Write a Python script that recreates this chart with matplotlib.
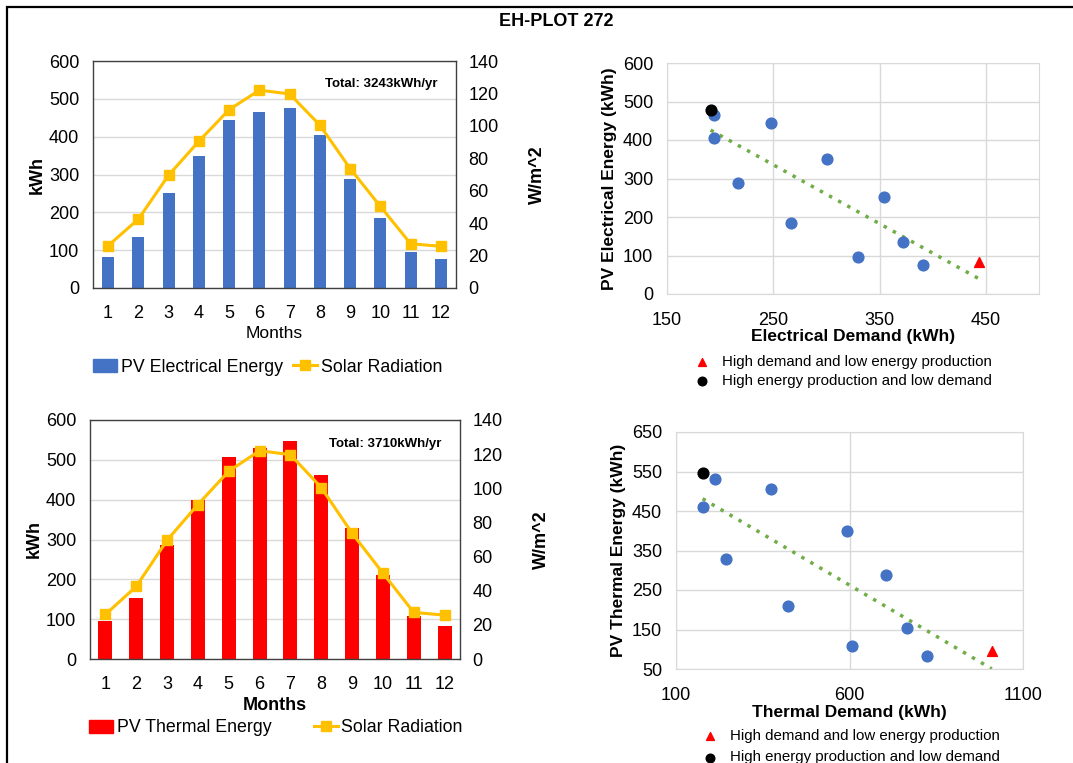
import numpy as np
import matplotlib
matplotlib.use("Agg")
import matplotlib.pyplot as plt
from matplotlib.patches import Rectangle
from matplotlib.lines import Line2D
from matplotlib.patches import Patch

plt.rcParams['font.family'] = ['Liberation Sans', 'DejaVu Sans']

months = list(range(1, 13))
pv_electrical = [82, 136, 252, 350, 445, 465, 477, 405, 288, 185, 95, 76]
pv_thermal = [95, 153, 287, 400, 506, 530, 547, 461, 328, 210, 108, 84]
solar_radiation = [26.1, 42.5, 69.6, 90.5, 110, 122, 119.7, 100.4, 73.7, 50.3, 27.3, 25.7]
electrical_demand = [444, 372, 354.5, 301, 248, 194.5, 191, 194.5, 217, 267, 330, 390.5]
thermal_demand = [1010, 766, 706, 594, 374, 213, 176.7, 178.6, 244, 422, 606, 823]
red_month = 1     # high demand and low energy production
black_month = 7   # high energy production and low demand

W, H = 1073, 763
fig = plt.figure(figsize=(W / 100, H / 100), dpi=100)


def rect(l, t, r, b):
    return [l / W, 1 - b / H, (r - l) / W, (b - t) / H]


# outer frame
fig.patches.append(Rectangle((7 / W, -0.1), 1.2, 1 - 7 / H + 0.1, transform=fig.transFigure,
                             fill=False, edgecolor='black', lw=1.6))
fig.text(556 / W, 1 - 22 / H, "EH-PLOT 272", ha='center', va='center',
         fontsize=13, fontweight='bold')


def bar_chart(box, values, color, width, total, label, bold_months, leg_x, colsp):
    ax = fig.add_axes(rect(*box))
    ax.bar(months, values, width=width, color=color, zorder=2, label=label)
    ax.set_xlim(0.5, 12.5)
    ax.set_ylim(0, 600)
    ax.set_yticks(range(0, 601, 100))
    ax.set_xticks(months)
    ax.grid(axis='y', color='#D9D9D9', lw=1, zorder=0)
    ax.tick_params(axis='x', length=0, labelsize=13, pad=12)
    ax.tick_params(axis='y', length=0, labelsize=13, pad=10)
    for s in ax.spines.values():
        s.set_color('#404040')
        s.set_linewidth(1)
    ax.set_ylabel("kWh", fontsize=13, fontweight='bold', labelpad=2)
    ax.set_xlabel("Months", fontsize=12.5 if not bold_months else 13,
                  fontweight='bold' if bold_months else 'normal', labelpad=3)
    ax.text(0.95, 0.9, total, transform=ax.transAxes, ha='right', va='center',
            fontsize=9.5, fontweight='bold')
    ax2 = ax.twinx()
    ax2.plot(months, solar_radiation, color='#FFC000', lw=2.2, marker='s', markersize=6.5,
             zorder=3, label="Solar Radiation")
    ax2.set_ylim(0, 140)
    ax2.set_yticks(range(0, 141, 20))
    ax2.tick_params(length=0, labelsize=13, pad=9)
    ax2.set_ylabel("W/m^2", fontsize=13, fontweight='bold', labelpad=22)
    for s in ax2.spines.values():
        s.set_visible(False)
    h = [Patch(color=color), Line2D([], [], color='#FFC000', lw=2.2, marker='s', markersize=6.5)]
    ax.legend(h, [label, "Solar Radiation"], ncol=2, frameon=False, fontsize=12.8,
              loc='center left', bbox_to_anchor=leg_x,
              bbox_transform=fig.transFigure, handlelength=1.35, handletextpad=0.2,
              columnspacing=colsp, borderpad=0, borderaxespad=0)
    return ax


bar_chart((93, 61, 456, 288), pv_electrical, '#4472C4', 0.4, "Total: 3243kWh/yr",
          "PV Electrical Energy", False, (93 / W, 1 - 367 / H), 0.6)
bar_chart((90, 420, 460, 659), pv_thermal, '#FF0000', 0.45, "Total: 3710kWh/yr",
          "PV Thermal Energy", True, (89 / W, 1 - 728 / H), 2.4)


def scatter_chart(box, xs, ys, xlim, xticks, ylim, yticks, xlabel, ylabel, leg_x, leg_y, lspace, lpad):
    ax = fig.add_axes(rect(*box))
    xs = np.array(xs)
    ys = np.array(ys)
    red = red_month - 1
    black = black_month - 1
    blue = [i for i in range(12) if i not in (red, black)]
    ax.scatter(xs[blue], ys[blue], s=60, color='#4472C4', zorder=3)
    r = ax.scatter(xs[red], ys[red], s=50, color='#FF0000', marker='^', zorder=3)
    b = ax.scatter(xs[black], ys[black], s=60, color='black', zorder=3)
    k, c = np.polyfit(xs, ys, 1)
    tx = np.array([xs.min(), xs.max()])
    ax.plot(tx, k * tx + c, color='#70AD47', lw=2.5, ls=(0, (1, 2)), zorder=2)
    ax.set_xlim(*xlim)
    ax.set_ylim(*ylim)
    ax.set_xticks(xticks)
    ax.set_yticks(yticks)
    ax.grid(color='#D9D9D9', lw=1, zorder=0)
    ax.set_axisbelow(True)
    ax.tick_params(axis='x', length=0, labelsize=13, pad=13)
    ax.tick_params(axis='y', length=0, labelsize=13, pad=10)
    for s in ax.spines.values():
        s.set_color('#D9D9D9')
    ax.set_xlabel(xlabel, fontsize=12.5, fontweight='bold', labelpad=lpad)
    ax.set_ylabel(ylabel, fontsize=12.5, fontweight='bold', labelpad=4)
    ax.legend([r, b], ["High demand and low energy production", "High energy production and low demand"],
              frameon=False, fontsize=10.8, loc='upper left',
              bbox_to_anchor=(leg_x / W, 1 - leg_y / H), bbox_transform=fig.transFigure,
              handletextpad=0.9, labelspacing=lspace, handlelength=1, scatterpoints=1,
              markerscale=0.8, borderpad=0, borderaxespad=0)
    return ax


scatter_chart((667, 63, 1039, 294), electrical_demand, pv_electrical, (150, 500),
              [150, 250, 350, 450], (0, 600), range(0, 601, 100),
              "Electrical Demand (kWh)", "PV Electrical Energy (kWh)", 694, 355, 0.3, 0)
scatter_chart((676, 432, 1023, 669), thermal_demand, pv_thermal, (100, 1100),
              [100, 600, 1100], (50, 650), range(50, 651, 100),
              "Thermal Demand (kWh)", "PV Thermal Energy (kWh)", 702, 729, 0.5, 1)

fig.savefig("out.png", dpi=100)
